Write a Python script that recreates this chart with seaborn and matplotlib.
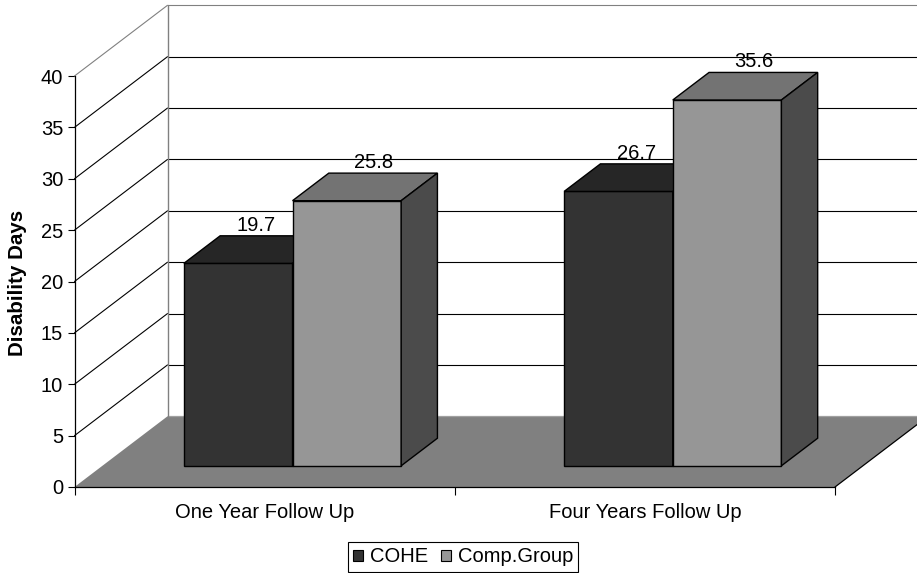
import matplotlib
matplotlib.use("Agg")
import matplotlib.pyplot as plt
import matplotlib.transforms as mtransforms
from matplotlib.patches import Polygon, Patch
import pandas as pd
import seaborn as sns

# ---- data -------------------------------------------------------------
periods = ["One Year Follow Up", "Four Years Follow Up"]
groups = ["COHE", "Comp.Group"]
cohe_days = [19.7, 26.7]
comp_days = [25.8, 35.6]
y_ticks = [0, 5, 10, 15, 20, 25, 30, 35, 40]

# ---- style ------------------------------------------------------------
front_colors = {"COHE": "#333333", "Comp.Group": "#969696"}
top_colors = {"COHE": "#262626", "Comp.Group": "#737373"}
side_colors = {"COHE": "#1f1f1f", "Comp.Group": "#4b4b4b"}
label_dx = {"COHE": 0.0, "Comp.Group": 6.5}   # points
FS = 14.5

df = pd.DataFrame({
    "period": periods * 2,
    "group": [groups[0]] * len(periods) + [groups[1]] * len(periods),
    "days": cohe_days + comp_days,
})

sns.set_style("white")
plt.rcParams["font.family"] = ["Liberation Sans", "DejaVu Sans"]
plt.rcParams.update({"text.color": "black", "axes.labelcolor": "black",
                     "xtick.color": "black", "ytick.color": "black"})

W, H, DPI = 917, 573, 100
fig = plt.figure(figsize=(W / DPI, H / DPI), dpi=DPI)
L, R, B, T = 74.5, 835, 487, 76          # plot box in pixels
ax = fig.add_axes([L / W, 1 - B / H, (R - L) / W, (B - T) / H])
ax.set_facecolor("none")

YMAX = y_ticks[-1]
# oblique depth vector (full depth of the floor) in data units
DX = 93 / (R - L) * len(periods)
DY = 70.7 / (B - T) * YMAX
ZF, ZB = 0.30, 0.69                      # front / back depth of the bars


def proj(x, y, z):
    return (x + z * DX, y + z * DY)


x_lo, x_hi = -0.5, len(periods) - 0.5

# floor
ax.add_patch(Polygon([proj(x_lo, 0, 0), proj(x_hi, 0, 0), proj(x_hi, 0, 1), proj(x_lo, 0, 1)],
                     closed=True, facecolor="#808080", edgecolor="none", zorder=0.5, clip_on=False))
ax.plot(*zip(proj(x_hi, 0, 0), proj(x_hi, 0, 1)), color="black", lw=0.9, zorder=0.6, clip_on=False)
ax.plot(*zip(proj(x_lo, 0, 1), proj(x_hi, 0, 1)), color="#a0a0a0", lw=0.9, zorder=0.6, clip_on=False)

# side and back walls with gridlines
for v in y_ticks[1:]:
    c = "#808080" if v == YMAX else "black"
    ax.plot(*zip(proj(x_lo, v, 0), proj(x_lo, v, 1)), color=c, lw=0.8, zorder=1, clip_on=False)
    ax.plot(*zip(proj(x_lo, v, 1), proj(x_hi, v, 1)), color=c, lw=0.8, zorder=1, clip_on=False)
ax.plot(*zip(proj(x_lo, 0, 1), proj(x_lo, YMAX, 1)), color="#808080", lw=1.0, zorder=1, clip_on=False)

# bar front faces
sns.barplot(data=df, x="period", y="days", hue="group", order=periods, hue_order=groups,
            palette=front_colors, width=4 / 7, dodge=True, errorbar=None, saturation=1,
            edgecolor="black", linewidth=1.0, legend=False, ax=ax)

shift = mtransforms.Affine2D().translate(ZF * DX, ZF * DY) + ax.transData
for gi, (group, container) in enumerate(zip(groups, ax.containers)):
    for bar in container:
        x0, w, v = bar.get_x(), bar.get_width(), bar.get_height()
        x1 = x0 + w
        bar.set_transform(shift)
        bar.set_zorder(3 + gi)
        bar.set_clip_on(False)
        ax.add_patch(Polygon([proj(x0, v, ZF), proj(x1, v, ZF), proj(x1, v, ZB), proj(x0, v, ZB)],
                             closed=True, facecolor=top_colors[group], edgecolor="black",
                             lw=1.0, zorder=3 + gi, clip_on=False))
        ax.add_patch(Polygon([proj(x1, 0, ZF), proj(x1, 0, ZB), proj(x1, v, ZB), proj(x1, v, ZF)],
                             closed=True, facecolor=side_colors[group], edgecolor="black",
                             lw=1.0, zorder=3 + gi, clip_on=False))
        yc = v + ZB * DY
        xc = x0 + w / 2 + (ZF + ZB) / 2 * DX
        ax.annotate(f"{v:.1f}", (xc, yc), xytext=(label_dx[group], 3.6),
                    textcoords="offset points", ha="center", va="baseline",
                    fontsize=FS, color="black", zorder=10, annotation_clip=False)

# axes
ax.set_xlim(x_lo, x_hi)
ax.set_ylim(0, YMAX)
ax.set_yticks(y_ticks)
ax.set_xticks(range(len(periods)))
ax.set_xticklabels(periods)
ax.set_xticks([x_lo + i for i in range(len(periods) + 1)], minor=True)
ax.set_xlabel("")
ax.set_ylabel("")
ax.tick_params(axis="x", which="major", length=0, pad=11.8, labelsize=FS, bottom=True,
               labelcolor="black")
ax.tick_params(axis="x", which="minor", length=5.6, width=0.8, direction="out",
               color="black", bottom=True)
ax.tick_params(axis="y", length=5.4, width=0.8, pad=2.7, labelsize=FS, direction="out",
               left=True, color="black", labelcolor="black")
for s in ("top", "right"):
    ax.spines[s].set_visible(False)
for s in ("left", "bottom"):
    ax.spines[s].set_color("black")
    ax.spines[s].set_linewidth(0.9)

fig.text(17.3 / W, 1 - 283 / H, "Disability Days", rotation=90, ha="center", va="center",
         fontsize=14.8, fontweight="bold", color="black")

handles = [Patch(facecolor=front_colors[g], edgecolor="black", linewidth=0.8, label=g) for g in groups]
leg = fig.legend(handles=handles, loc="center", bbox_to_anchor=(463 / W, 1 - 557 / H), ncol=2,
                 frameon=True, fancybox=False, edgecolor="black", framealpha=1, fontsize=FS,
                 handlelength=0.5, handleheight=0.5, handletextpad=0.35, columnspacing=0.65,
                 borderpad=0.25, borderaxespad=0)
leg.get_frame().set_linewidth(0.8)
for t in leg.get_texts():
    t.set_color("black")

fig.savefig("out.png", dpi=DPI)
